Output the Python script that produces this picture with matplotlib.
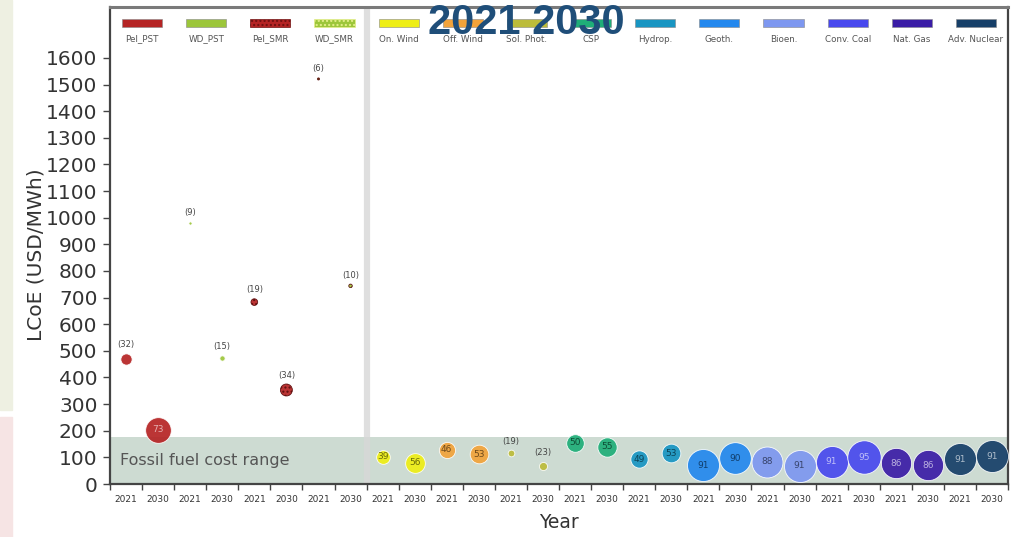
import numpy as np
import matplotlib
matplotlib.use("Agg")
import matplotlib.pyplot as plt
from matplotlib.patches import Rectangle
from matplotlib.transforms import blended_transform_factory
from matplotlib.colors import to_rgb

# ---- data -------------------------------------------------------------
techs = ["Pel_PST", "WD_PST", "Pel_SMR", "WD_SMR", "On. Wind", "Off. Wind",
         "Sol. Phot.", "CSP", "Hydrop.", "Geoth.", "Bioen.", "Conv. Coal",
         "Nat. Gas", "Adv. Nuclear"]
years = ["2021", "2030"]

# LCoE per technology and year (USD/MWh), order: tech0-2021, tech0-2030, ...
lcoe = [469, 203, 980, 472, 683, 353, 1521, 744,
        103, 80, 128, 112, 115, 69, 155, 140, 93, 115,
        71, 96, 84, 68, 84, 100, 78, 71, 93, 105]
# score shown with each point (bubble size follows it)
scores = [32, 73, 9, 15, 19, 34, 6, 10,
          39, 56, 46, 53, 19, 23, 50, 55, 49, 53,
          91, 90, 88, 91, 91, 95, 86, 86, 91, 91]
# scores printed in brackets above the point instead of inside it
bracketed = [True, False, True, True, True, True, True, True,
             False, False, False, False, True, True, False, False, False, False,
             False, False, False, False, False, False, False, False, False, False]
fossil_range = (0, 175)

colors = ["#b52424", "#9cc63a", "#b52424", "#9cc63a", "#eeee14", "#f2a33a",
          "#bcbc3a", "#1fae78", "#1895c2", "#2388ee", "#7d97f0", "#4848ee",
          "#3a1ca6", "#163f68"]
hatched = [False, False, True, True] + [False] * 10

# ---- figure -------------------------------------------------------------
W, H = 1015, 537
fig = plt.figure(figsize=(W / 100, H / 100), dpi=100)
fig.patch.set_facecolor("white")

# side panels of the slide
fig.patches.append(Rectangle((0, (H - 410) / H), 12 / W, 410 / H,
                             transform=fig.transFigure, color="#eef0e2", zorder=0))
fig.patches.append(Rectangle((0, 0), 12 / W, (H - 417) / H,
                             transform=fig.transFigure, color="#f6e4e4", zorder=0))

ax = fig.add_axes([110 / W, 53 / H, 898 / W, 476.7 / H])
n = len(lcoe)
x = np.arange(n)
ax.set_xlim(-0.5, n - 0.5)
ax.set_ylim(0, 1790)

# fossil fuel band
ax.axhspan(fossil_range[0], fossil_range[1], color="#c5d5cb", alpha=0.85, zorder=1, lw=0)
ax.text(-0.2, 90, "Fossil fuel cost range", fontsize=11.5, color="#555555",
        va="center", ha="left", zorder=2)

# separator between the two groups
ax.axvline(7.5, color="#d8d8d8", lw=4.5, alpha=0.8, zorder=1.5)

px_per_score = 32 / 91.0  # bubble diameter in pixels per score point


def text_color(c):
    r, g, b = to_rgb(c)
    lum = 0.299 * r + 0.587 * g + 0.114 * b
    if lum > 0.42:
        return tuple(0.45 * v for v in (r, g, b))
    return tuple(v + (1 - v) * 0.65 for v in (r, g, b))


for i in range(n):
    t = i // 2
    c = colors[t]
    d_px = scores[i] * px_per_score
    d_pt = d_px * 0.72
    ax.scatter(x[i], lcoe[i], s=d_pt ** 2, color=c, alpha=0.92,
               edgecolors="white" if not hatched[t] else "#5a0c0c",
               linewidths=0.6, zorder=3,
               hatch="...." if hatched[t] else None)
    if bracketed[i]:
        ax.annotate(f"({scores[i]})", (x[i], lcoe[i]),
                    xytext=(0, (d_px / 2 + 9) * 0.72), textcoords="offset points",
                    ha="center", va="center", fontsize=6, color="#444444", zorder=4)
    else:
        ax.text(x[i], lcoe[i], str(scores[i]), ha="center", va="center",
                fontsize=6.5, color=text_color(c), zorder=4)

# legend: swatches above their labels, one per technology pair
trans = blended_transform_factory(ax.transData, ax.transAxes)
sw_w, sw_h = 1.25, 0.0155
for t, name in enumerate(techs):
    cx = 2 * t + 0.5
    if hatched[t]:
        ec = "#6e1010" if t == 2 else "#e6ef8c"
        rect = Rectangle((cx - sw_w / 2, 0.967 - sw_h / 2), sw_w, sw_h,
                         transform=trans, facecolor=colors[t], edgecolor=ec,
                         hatch="....", lw=0.5, zorder=5, clip_on=False)
    else:
        rect = Rectangle((cx - sw_w / 2, 0.967 - sw_h / 2), sw_w, sw_h,
                         transform=trans, facecolor=colors[t], edgecolor="#888888",
                         lw=0.4, zorder=5, clip_on=False)
    ax.add_patch(rect)
    ax.text(cx, 0.9335, name, transform=trans, ha="center", va="center",
            fontsize=6.3, color="#555555", zorder=5)

# axes styling
ax.set_xticks(x)
ax.set_xticklabels([years[i % 2] for i in range(n)])
ax.set_xticks(np.arange(-0.5, n, 1), minor=True)
ax.tick_params(axis="x", which="major", length=0, pad=8, labelsize=6.5, labelcolor="#333333")
ax.tick_params(axis="x", which="minor", length=4, width=1, color="#444444")
ax.set_yticks(np.arange(0, 1700, 100))
ax.tick_params(axis="y", length=5, width=1, pad=4, labelsize=14.5, labelcolor="#333333",
               color="#444444")

for side in ["left", "bottom", "right"]:
    ax.spines[side].set_color("#444444")
    ax.spines[side].set_linewidth(1.6)
ax.spines["top"].set_color("#7a7a7a")
ax.spines["top"].set_linewidth(2.2)

ax.set_ylabel("LCoE (USD/MWh)", fontsize=14.5, color="#333333", va="center")
ax.yaxis.set_label_coords(-0.082, 0.48)
ax.set_xlabel("Year", fontsize=13.5, color="#333333", va="center")
ax.xaxis.set_label_coords(0.5, -0.0818)

fig.text(0.519, 0.957, "2021 2030", fontsize=30, fontweight="bold",
         family="Liberation Sans", color="#1f4e79", ha="center", va="center", zorder=10)

fig.savefig("out.png", dpi=100)
